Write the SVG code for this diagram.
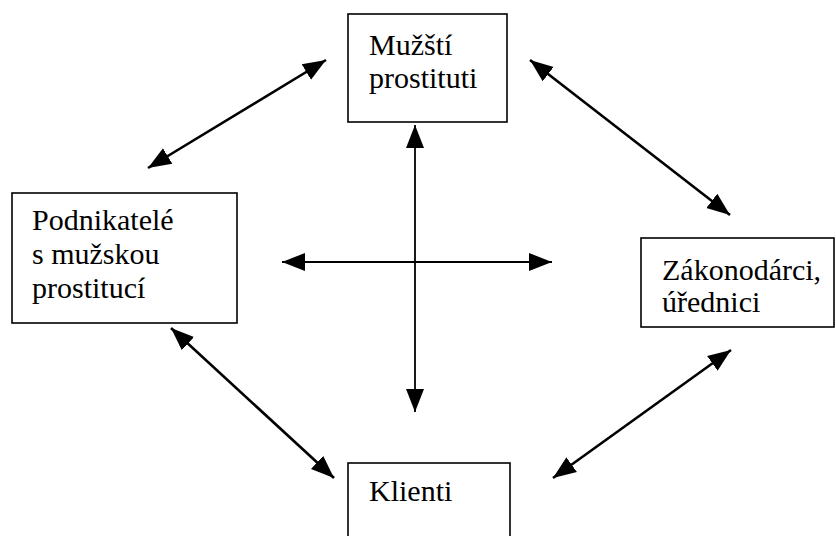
<svg xmlns="http://www.w3.org/2000/svg" width="836" height="536" viewBox="0 0 836 536">
<defs>
<style>
.box{fill:#fff;stroke:#000;stroke-width:1.6}
.t{font-family:"Liberation Serif","Times New Roman",serif;font-size:30px;fill:#000}
.c{stroke:#000;stroke-width:2.6;fill:none;marker-start:url(#ah);marker-end:url(#ah)}
.s{stroke-width:1.8}
</style>
<marker id="ah" markerUnits="userSpaceOnUse" markerWidth="26" markerHeight="20" refX="23" refY="9" orient="auto-start-reverse" viewBox="0 0 26 18">
<path d="M0,0 L23,9 L0,18 Z" fill="#000"/>
</marker>
</defs>
<rect width="836" height="536" fill="#fff"/>
<g id="connectors">
<line class="c" x1="148" y1="168" x2="326" y2="60"/>
<line class="c" x1="530" y1="60" x2="730" y2="215"/>
<line class="c s" x1="415" y1="125" x2="415" y2="412"/>
<line class="c s" x1="282" y1="262" x2="552" y2="262"/>
<line class="c" x1="171" y1="328" x2="334" y2="478"/>
<line class="c" x1="553" y1="478" x2="731" y2="350"/>
</g>
<g id="muzsti">
<rect class="box" x="348" y="14" width="159" height="108"/>
<text class="t" x="369" y="55">Mužští</text>
<text class="t" x="369" y="88">prostituti</text>
</g>
<g id="podnikatele">
<rect class="box" x="12" y="193" width="225" height="130"/>
<text class="t" x="32" y="230">Podnikatelé</text>
<text class="t" x="32" y="264">s mužskou</text>
<text class="t" x="32" y="298">prostitucí</text>
</g>
<g id="zakonodarci">
<rect class="box" x="641" y="238" width="193" height="89"/>
<text class="t" x="662" y="280">Zákonodárci,</text>
<text class="t" x="662" y="312">úřednici</text>
</g>
<g id="klienti">
<rect class="box" x="348" y="463" width="162" height="80"/>
<text class="t" x="369" y="501">Klienti</text>
</g>
</svg>
